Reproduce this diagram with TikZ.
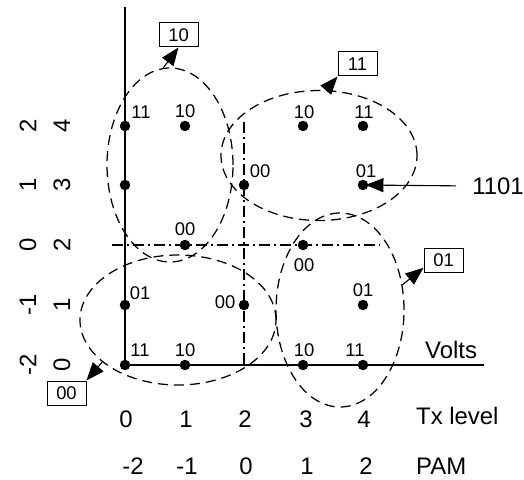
\documentclass[tikz,border=0pt]{standalone}
\usepackage{fontspec}
\setmainfont{Liberation Sans}
\usetikzlibrary{arrows.meta,shapes.geometric}
\begin{document}
\begin{tikzpicture}[x=1bp,y=-1bp,
 dot/.style={circle,fill=black,inner sep=0pt,minimum size=10.5bp},
 lab/.style={font=\fontsize{18.5}{20}\selectfont,inner sep=0pt},
 big/.style={font=\fontsize{24}{26}\selectfont,inner sep=0pt},
 grp/.style={ellipse,draw,line width=1.25bp,dash pattern=on 10bp off 6bp,inner sep=0pt},
 tag/.style={draw,line width=1bp,font=\fontsize{18.5}{20}\selectfont,minimum width=39bp,minimum height=24bp,inner sep=0pt},
 arr/.style={line width=1.1bp,-{Triangle[length=18bp,width=14bp]}},
 axisline/.style={line width=1.5bp},
 gridline/.style={line width=1.1bp,dash pattern=on 11bp off 4bp on 2bp off 4bp}]
\useasboundingbox (0,0) rectangle (524,480);

% axes
\coordinate (ytop) at (125,7);
\coordinate (orig) at (125,365);
\coordinate (xend) at (484,365);
\draw[axisline] (ytop) -- (orig) -- (xend);

% dash-dot guide lines
\coordinate (hg1) at (112,245);
\coordinate (hg2) at (380,245);
\coordinate (vg1) at (244,122);
\coordinate (vg2) at (244,365);
\draw[gridline] (hg1) -- (hg2);
\draw[gridline] (vg1) -- (vg2);

% groups
\node[grp,minimum width=126bp,minimum height=194bp] (e1) at (170,165) {};
\node[grp,minimum width=196bp,minimum height=130bp] (e2) at (319,155.5) {};
\node[grp,minimum width=196bp,minimum height=130bp] (e3) at (178,320) {};
\node[grp,minimum width=128bp,minimum height=194bp] (e4) at (340,310) {};

% dots
\node[dot] (d04) at (125,126) {};
\node[dot] (d14) at (185,126) {};
\node[dot] (d03) at (125,185) {};
\node[dot] (d12) at (185,245) {};
\node[dot] (d23) at (244,185) {};
\node[dot] (d34) at (303,126) {};
\node[dot] (d44) at (363,126) {};
\node[dot] (d43) at (363,185) {};
\node[dot] (d32) at (303,245) {};
\node[dot] (d41) at (363,305) {};
\node[dot] (d30) at (303,365) {};
\node[dot] (d40) at (363,365) {};
\node[dot] (d01) at (125,305) {};
\node[dot] (d21) at (244,305) {};
\node[dot] (d00) at (125,365) {};
\node[dot] (d10) at (185,365) {};

% dot labels
\node[lab] (l04) at (141,112) {11};
\node[lab] (l14) at (185,111) {10};
\node[lab] (l12) at (185,229) {00};
\node[lab] (l23) at (260,171) {00};
\node[lab] (l34) at (304,112) {10};
\node[lab] (l44) at (364,112) {11};
\node[lab] (l43) at (366,171) {01};
\node[lab] (l32) at (304,265) {00};
\node[lab] (l41) at (363,290) {01};
\node[lab] (l30) at (304,350) {10};
\node[lab] (l40) at (355,350) {11};
\node[lab] (l01) at (140,293) {01};
\node[lab] (l21) at (225,302) {00};
\node[lab] (l00) at (140,350) {11};
\node[lab] (l10) at (185,350) {10};

% tags
\node[tag] (b10) at (178.5,35) {10};
\node[tag] (b11) at (357.5,64) {11};
\node[tag] (b01) at (443.5,260.5) {01};
\node[tag] (b00) at (66.5,393) {00};
\draw[arr] (e1.94) -- (b10.south);
\draw[arr] (e2.84) -- (b11.south west);
\draw[arr] (e4.22) -- (b01.200);
\draw[arr] (e3.209) -- (b00.north east);

% 1101
\node[big] (n1101) at (498,186) {1101};
\draw[arr,shorten <=16bp,shorten >=-3bp] (n1101.west) -- (d43);

% left scales
\node[big,rotate=90] (pa4) at (28,126) {2};
\node[big,rotate=90] (pa3) at (28,185) {1};
\node[big,rotate=90] (pa2) at (28,245) {0};
\node[big,rotate=90] (pa1) at (28,305) {-1};
\node[big,rotate=90] (pa0) at (28,365) {-2};
\node[big,rotate=90] (tl4) at (62,126) {4};
\node[big,rotate=90] (tl3) at (62,185) {3};
\node[big,rotate=90] (tl2) at (62,245) {2};
\node[big,rotate=90] (tl1) at (62,305) {1};
\node[big,rotate=90] (tl0) at (62,365) {0};

% bottom scales
\node[big,anchor=base] (bt0) at (126,427) {0};
\node[big,anchor=base] (bt1) at (186,427) {1};
\node[big,anchor=base] (bt2) at (245,427) {2};
\node[big,anchor=base] (bt3) at (306,427) {3};
\node[big,anchor=base] (bt4) at (364,427) {4};
\node[big,anchor=base west] (txl) at (416,424) {Tx level};
\node[big,anchor=base] (bp0) at (133,474) {-2};
\node[big,anchor=base] (bp1) at (187,474) {-1};
\node[big,anchor=base] (bp2) at (246,474) {0};
\node[big,anchor=base] (bp3) at (307,474) {1};
\node[big,anchor=base] (bp4) at (366,474) {2};
\node[big,anchor=base west] (pam) at (416,474) {PAM};
\node[big,anchor=base west] (volts) at (425,358) {Volts};
\end{tikzpicture}
\end{document}
